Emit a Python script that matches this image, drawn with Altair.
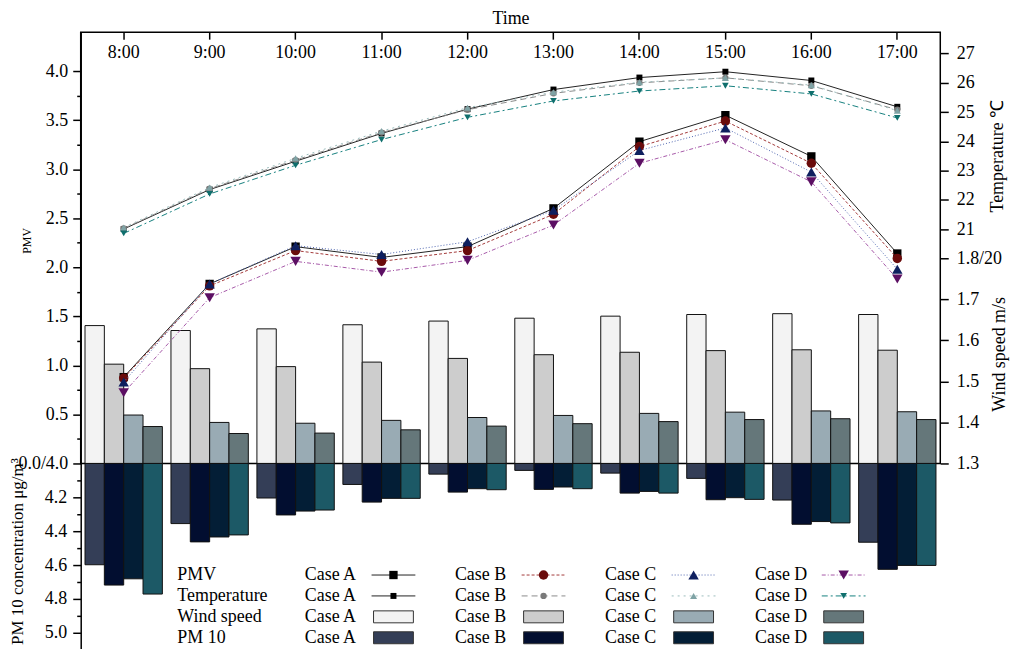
import altair as alt
import pandas as pd

# ---------------- data ----------------
times = ["8:00", "9:00", "10:00", "11:00", "12:00", "13:00", "14:00", "15:00", "16:00", "17:00"]
cases = ["Case A", "Case B", "Case C", "Case D"]
rows = ["PMV", "Temperature", "Wind speed", "PM 10"]

pmv_a = [0.88, 1.83, 2.21, 2.10, 2.21, 2.60, 3.28, 3.55, 3.13, 2.14]
pmv_b = [0.87, 1.81, 2.17, 2.06, 2.17, 2.54, 3.23, 3.49, 3.06, 2.09]
pmv_c = [0.83, 1.83, 2.22, 2.13, 2.26, 2.58, 3.19, 3.42, 2.97, 1.98]
pmv_d = [0.72, 1.69, 2.06, 1.95, 2.07, 2.43, 3.06, 3.30, 2.87, 1.88]

temp_a = [21.00, 22.35, 23.32, 24.27, 25.10, 25.77, 26.18, 26.38, 26.08, 25.18]
temp_b = [21.02, 22.38, 23.36, 24.30, 25.08, 25.64, 26.00, 26.17, 25.90, 25.08]
temp_c = [21.05, 22.42, 23.42, 24.35, 25.15, 25.68, 26.02, 26.17, 25.92, 25.05]
temp_d = [20.85, 22.20, 23.18, 24.06, 24.82, 25.38, 25.72, 25.90, 25.62, 24.80]

wind_a = [1.636, 1.624, 1.628, 1.638, 1.647, 1.654, 1.659, 1.663, 1.665, 1.663]
wind_b = [1.542, 1.531, 1.536, 1.547, 1.556, 1.565, 1.571, 1.575, 1.577, 1.576]
wind_c = [1.418, 1.400, 1.398, 1.405, 1.412, 1.417, 1.422, 1.425, 1.428, 1.426]
wind_d = [1.390, 1.373, 1.374, 1.382, 1.391, 1.397, 1.402, 1.407, 1.409, 1.407]

pm10_a = [4.598, 4.355, 4.204, 4.124, 4.063, 4.041, 4.057, 4.088, 4.216, 4.465]
pm10_b = [4.718, 4.463, 4.304, 4.228, 4.169, 4.153, 4.175, 4.214, 4.359, 4.625]
pm10_c = [4.681, 4.434, 4.281, 4.206, 4.149, 4.139, 4.165, 4.202, 4.343, 4.602]
pm10_d = [4.771, 4.422, 4.275, 4.206, 4.155, 4.149, 4.175, 4.212, 4.351, 4.602]

pmv_ticks = [0.0, 0.25, 0.5, 0.75, 1.0, 1.25, 1.5, 1.75, 2.0, 2.25, 2.5, 2.75,
             3.0, 3.25, 3.5, 3.75, 4.0]
pm10_ticks = [4.1, 4.2, 4.3, 4.4, 4.5, 4.6, 4.7, 4.8, 4.9, 5.0]
temp_ticks = [20, 21, 22, 23, 24, 25, 26, 27]
wind_ticks = [1.3, 1.4, 1.5, 1.6, 1.7]

pmv_all = [pmv_a, pmv_b, pmv_c, pmv_d]
temp_all = [temp_a, temp_b, temp_c, temp_d]
wind_all = [wind_a, wind_b, wind_c, wind_d]
pm10_all = [pm10_a, pm10_b, pm10_c, pm10_d]

recs = []
for j, c in enumerate(cases):
    for i, t in enumerate(times):
        recs.append({"time": t, "case": c, "pmv": pmv_all[j][i], "temp": temp_all[j][i],
                     "wind": wind_all[j][i], "pm10": pm10_all[j][i]})
df = pd.DataFrame(recs)

leg = pd.DataFrame([{"row": r, "case": c, "ri": i, "ci": j}
                    for i, r in enumerate(rows) for j, c in enumerate(cases)])
leg_rows = pd.DataFrame({"row": rows, "ri": list(range(len(rows)))})

# ---------------- styles ----------------
FONT = "Liberation Serif"
FS = 18
W, H = 863, 433

wind_colors = ["#f3f3f3", "#cdcdcd", "#99abb4", "#65777a"]
pm_colors = ["#343e57", "#020e30", "#031e36", "#1c5966"]

pmv_styles = [
    dict(line="#222222", dash=None, shape="square", marker="#000000", size=70),
    dict(line="#a33a3a", dash=[3, 2], shape="circle", marker="#6a0b0b", size=90),
    dict(line="#4f66b0", dash=[1, 2], shape="triangle-up", marker="#0e1f5f", size=110),
    dict(line="#a659a8", dash=[4, 2, 1, 2], shape="triangle-down", marker="#5c0f63", size=110),
]
temp_styles = [
    dict(line="#222222", dash=None, shape="square", marker="#000000", size=36),
    dict(line="#8a8a8a", dash=[6, 4], shape="circle", marker="#7a7a7a", size=40),
    dict(line="#9bbcbc", dash=[2, 4], shape="triangle-up", marker="#7fa3a5", size=50),
    dict(line="#15807e", dash=[6, 3, 2, 3], shape="triangle-down", marker="#0f6f6d", size=45),
]

common_axis = dict(grid=False, labelFont=FONT, labelFontSize=FS, labelColor="black",
                   tickColor="black", tickWidth=1.5, domainColor="black", domainWidth=1.5,
                   titleFont=FONT, titleColor="black", titleFontWeight="normal",
                   labelOverlap=False, labelFlush=False)

x_axis = alt.Axis(orient="bottom", offset=-H, domain=False, tickSize=7, labelPadding=4,
                  labelAngle=0, title="Time", titleFontSize=18, titleY=-14,
                  titleBaseline="middle", **common_axis)

pmv_axis = alt.Axis(
    orient="left", values=pmv_ticks, domain=True, labelPadding=5,
    labelExpr="datum.value == 0 ? '0.0/4.0' : (round(datum.value*4) % 2 == 1 ? '' : format(datum.value, '.1f'))",
    tickSize={"condition": {"test": "round(datum.value*4) % 2 == 1", "value": 4}, "value": 8},
    title="PMV", titleFontSize=12, titleAngle=270, titleX=-54, titleY=209,
    titleBaseline="middle", **common_axis)

pm_axis = alt.Axis(
    orient="left", values=pm10_ticks, domain=True, labelPadding=6,
    labelExpr="round(datum.value*10) % 2 == 1 ? '' : format(datum.value, '.1f')",
    tickSize={"condition": {"test": "round(datum.value*10) % 2 == 1", "value": 4}, "value": 8},
    title="PM 10 concentration μg/m³", titleFontSize=17, titleAngle=270, titleX=-63,
    titleY=521, titleBaseline="middle", **common_axis)

temp_axis = alt.Axis(
    orient="right", values=temp_ticks, domain=False, tickSize=8, labelPadding=8,
    labelExpr="datum.value == 20 ? '1.8/20' : format(datum.value, 'd')",
    title="Temperature ℃", titleFontSize=18, titleAngle=270, titleX=57, titleY=124,
    titleBaseline="middle", **common_axis)

wind_axis = alt.Axis(
    orient="right", values=wind_ticks, format=".1f", domain=False, tickSize=8,
    labelPadding=8, title="Wind speed m/s", titleFontSize=18, titleAngle=270,
    titleX=59, titleY=323, titleBaseline="middle", **common_axis)

x_band = alt.Scale(type="band", domain=times, paddingInner=0.1, paddingOuter=0.05)
x_point = alt.Scale(type="point", domain=times, padding=0.5)
off_scale = alt.Scale(domain=cases, paddingInner=0, paddingOuter=0)

# ---------------- bars ----------------
wind_layer = alt.Chart(df).mark_bar(stroke="#111111", strokeWidth=1).encode(
    x=alt.X("time:N", scale=x_band, axis=x_axis),
    xOffset=alt.XOffset("case:N", scale=off_scale),
    y=alt.Y("wind:Q", scale=alt.Scale(domain=[1.3, 2.351], zero=False, nice=False), axis=wind_axis),
    y2=alt.datum(1.3),
    color=alt.Color("case:N", scale=alt.Scale(domain=cases, range=wind_colors), legend=None),
)

pm_layer = alt.Chart(df).mark_bar(stroke="#111111", strokeWidth=1).encode(
    x=alt.X("time:N", scale=x_band, axis=None),
    xOffset=alt.XOffset("case:N", scale=off_scale),
    y=alt.Y("pm10:Q", scale=alt.Scale(domain=[4.0, 5.182], range=[H, 634], zero=False, nice=False),
            axis=pm_axis),
    y2=alt.datum(4.0),
    color=alt.Color("case:N", scale=alt.Scale(domain=cases, range=pm_colors), legend=None),
)


def series_group(field, scale, axis, styles):
    layers = []
    for c, st in zip(cases, styles):
        base = alt.Chart(df).transform_filter(alt.datum.case == c)
        enc = dict(x=alt.X("time:N", scale=x_point, axis=None),
                   y=alt.Y(f"{field}:Q", scale=scale, axis=axis))
        lkw = dict(color=st["line"], strokeWidth=1)
        if st["dash"]:
            lkw["strokeDash"] = st["dash"]
        layers.append(base.mark_line(**lkw).encode(**enc))
        layers.append(base.mark_point(shape=st["shape"], filled=True, size=st["size"],
                                      color=st["marker"], opacity=1).encode(**enc))
    return alt.layer(*layers)


temp_group = series_group("temp", alt.Scale(domain=[12.984, 27.732], zero=False, nice=False),
                          temp_axis, temp_styles)
pmv_group = series_group("pmv", alt.Scale(domain=[0, 4.396], zero=False, nice=False),
                         pmv_axis, pmv_styles)

# ---------------- legend ----------------
lx = alt.X("ci:Q", scale=alt.Scale(domain=[0, 3], range=[225, 677], zero=False, nice=False), axis=None)
ly = alt.Y("ri:Q", scale=alt.Scale(domain=[0, 3], range=[545, 608], zero=False, nice=False), axis=None)

leg_layers = [
    alt.Chart(leg_rows).mark_text(align="left", baseline="middle", font=FONT, fontSize=FS,
                                  color="black", x=97).encode(y=ly, text="row:N"),
    alt.Chart(leg).mark_text(align="left", baseline="middle", font=FONT, fontSize=FS,
                             color="black").encode(x=lx, y=ly, text="case:N"),
]
SYM = 89
for j, c in enumerate(cases):
    for ri, st in ((0, pmv_styles[j]), (1, temp_styles[j])):
        sub = alt.Chart(leg).transform_filter((alt.datum.case == c) & (alt.datum.ri == ri))
        rkw = dict(color=st["line"], strokeWidth=1, xOffset=SYM - 22, x2Offset=SYM + 22)
        if st["dash"]:
            rkw["strokeDash"] = st["dash"]
        leg_layers.append(sub.mark_rule(**rkw).encode(x=lx, x2=alt.X2("ci:Q"), y=ly))
        leg_layers.append(sub.mark_point(shape=st["shape"], filled=True, size=st["size"],
                                         color=st["marker"], opacity=1, xOffset=SYM)
                          .encode(x=lx, y=ly))
    for ri, col in ((2, wind_colors[j]), (3, pm_colors[j])):
        sub = alt.Chart(leg).transform_filter((alt.datum.case == c) & (alt.datum.ri == ri))
        leg_layers.append(sub.mark_rect(color=col, stroke="#333333", strokeWidth=1,
                                        xOffset=SYM - 20, x2Offset=SYM + 20,
                                        yOffset=-6, y2Offset=6)
                          .encode(x=lx, x2=alt.X2("ci:Q"), y=ly, y2=alt.Y2("ri:Q")))
legend_group = alt.layer(*leg_layers)

chart = alt.layer(wind_layer, pm_layer, temp_group, pmv_group, legend_group).resolve_scale(
    x="independent", y="independent", color="independent"
).properties(
    width=W, height=H,
    autosize=alt.AutoSizeParams(type="none"),
    padding={"left": 73, "top": 23, "right": 70, "bottom": 185},
    background="white",
).configure_view(stroke="black", strokeWidth=1.5)

chart.save("out.html", embed_options={"renderer": "svg", "actions": False})
